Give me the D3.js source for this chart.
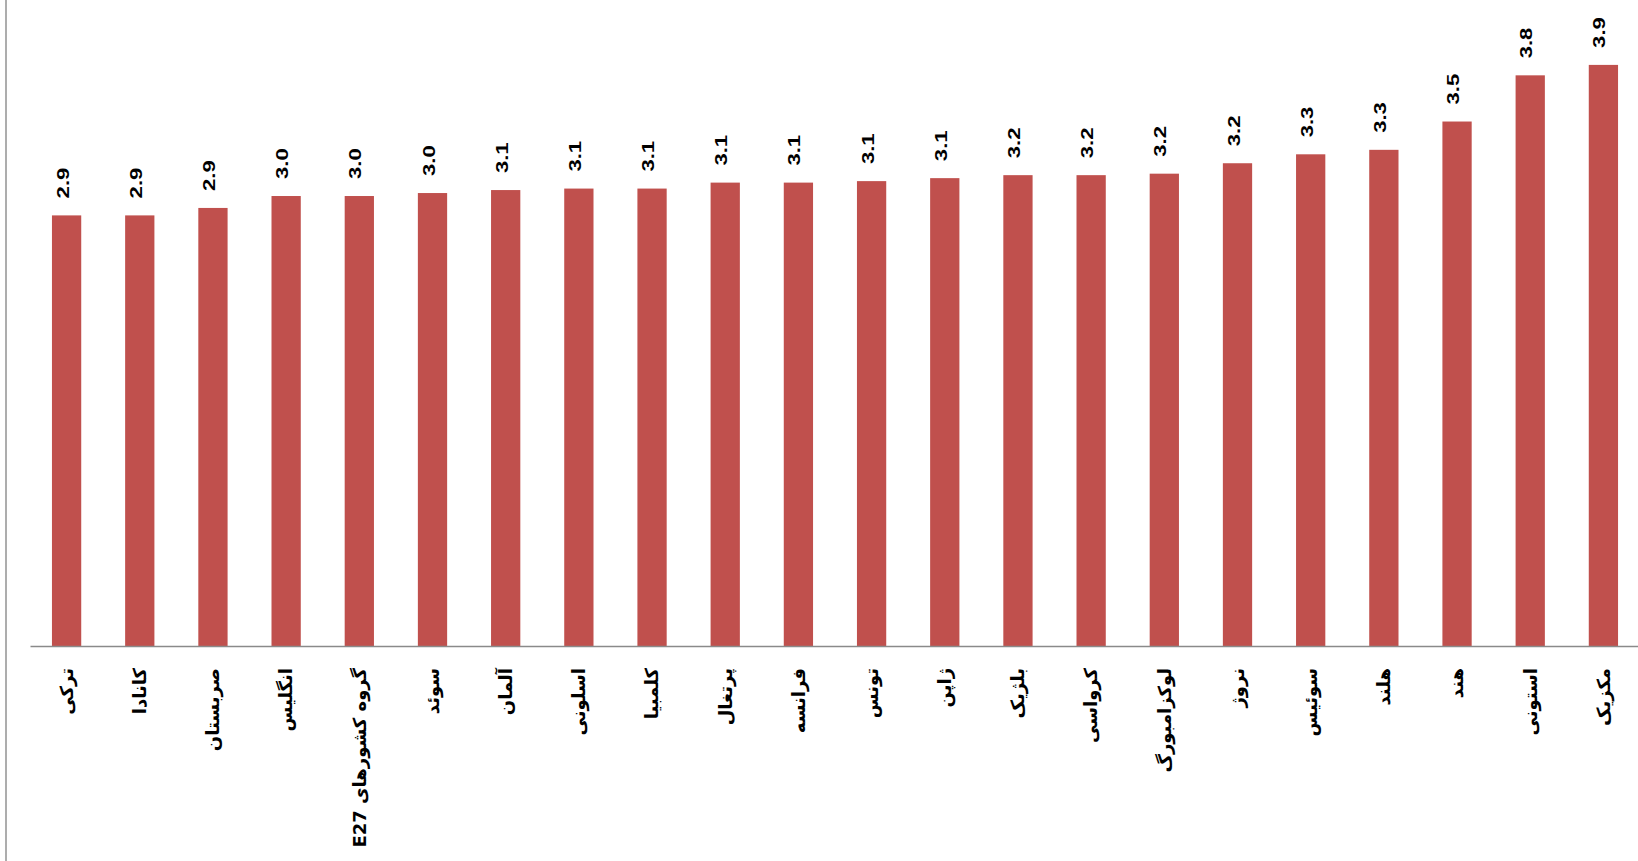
<!DOCTYPE html>
<html>
<head>
<meta charset="utf-8">
<script src="https://cdn.jsdelivr.net/npm/d3@7"></script>
<style>
  body { margin: 0; background: #fff; }
  svg { display: block; }
</style>
</head>
<body>
<div id="chart"></div>
<script>
// categories (left to right as in the picture)
const countries = [
  "ترکی", "کانادا", "صربستان", "انگلیس", "گروه کشورهای E27", "سوئد",
  "آلمان", "اسلونی", "کلمبیا", "پرتغال", "فرانسه", "تونس",
  "ژاپن", "بلژیک", "کرواسی", "لوکزامبورگ", "نروژ", "سوئیس",
  "هلند", "هند", "استونی", "مکزیک"
];
const values = [
  2.89, 2.89, 2.94, 3.02, 3.02, 3.04,
  3.06, 3.07, 3.07, 3.11, 3.11, 3.12,
  3.14, 3.16, 3.16, 3.17, 3.24, 3.30,
  3.33, 3.52, 3.83, 3.90
];
const data = countries.map((c, i) => ({ name: c, value: values[i] }));

const width = 1638;
const height = 861;
const baseY = 646;

const svg = d3.select('#chart')
  .append('svg')
  .attr('width', width)
  .attr('height', height);

// left frame line
svg.append('line')
  .attr('x1', 6).attr('x2', 6)
  .attr('y1', 0).attr('y2', height)
  .attr('stroke', '#adadad')
  .attr('stroke-width', 2);

const x = d3.scaleBand()
  .domain(countries)
  .range([30, 1640])
  .paddingInner(0.6)
  .paddingOuter(0.3);

const y = d3.scaleLinear()
  .domain([0, 3.9])
  .range([baseY, baseY - 3.9 * 149]);

// bars
svg.selectAll('.bar')
  .data(data)
  .enter()
  .append('rect')
  .attr('class', 'bar')
  .attr('x', d => x(d.name))
  .attr('y', d => y(d.value))
  .attr('width', x.bandwidth())
  .attr('height', d => y(0) - y(d.value))
  .attr('fill', '#C0504D');

// value labels, rotated
svg.selectAll('.label')
  .data(data)
  .enter()
  .append('text')
  .attr('class', 'label')
  .attr('transform', d => `translate(${x(d.name) + x.bandwidth() / 2 + 2}, ${y(d.value) - 17}) rotate(-90) scale(1.3,1)`)
  .attr('text-anchor', 'start')
  .style('font-family', '"Liberation Sans", Arial, sans-serif')
  .style('font-weight', 'bold')
  .style('font-size', '17px')
  .style('fill', '#000')
  .text(d => d3.format('.1f')(d.value));

// x axis
const xAxis = svg.append('g')
  .attr('transform', `translate(0, ${baseY})`)
  .call(d3.axisBottom(x).tickSize(0).tickSizeOuter(0));

xAxis.select('.domain')
  .attr('stroke', '#8a8a8a')
  .attr('stroke-width', 1.5);

xAxis.selectAll('text')
  .text(d => '\u202B' + d + '\u202C')
  .attr('transform', 'rotate(-90)')
  .attr('x', -22)
  .attr('y', 0)
  .attr('dy', '0.35em')
  .attr('text-anchor', 'end')
  .style('font-family', '"DejaVu Sans", "Liberation Sans", sans-serif')
  .style('font-weight', 'bold')
  .style('font-size', '18px')
  .style('fill', '#000');
</script>
</body>
</html>
